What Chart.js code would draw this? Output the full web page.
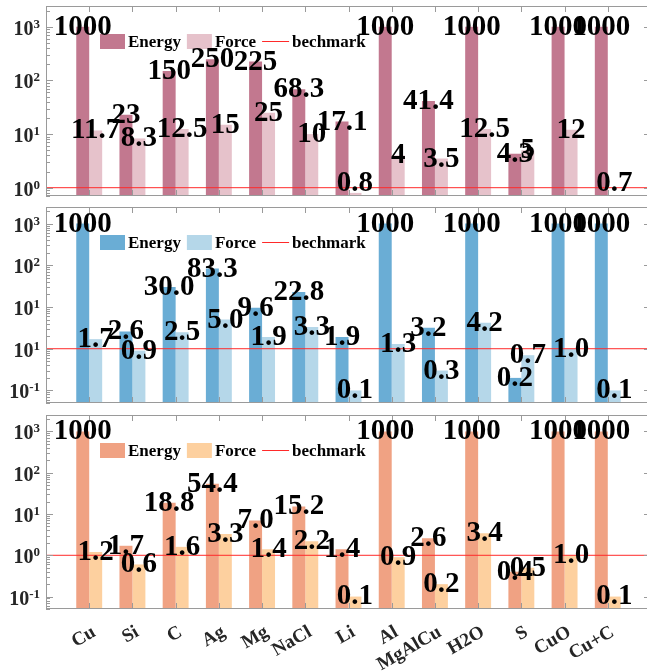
<!DOCTYPE html>
<html lang="en">
<head>
<meta charset="UTF-8">
<title>Energy / Force vs benchmark</title>
<script src="https://cdn.jsdelivr.net/npm/chart.js"></script>
<style>
  html, body { margin: 0; padding: 0; background: #fff; overflow: hidden; width: 647px; height: 671px; }
  .panel { position: absolute; left: 0; }
</style>
</head>
<body>
<canvas id="c1" class="panel" style="top:0px" width="660" height="200"></canvas>
<canvas id="c2" class="panel" style="top:200px" width="660" height="207"></canvas>
<canvas id="c3" class="panel" style="top:407px" width="660" height="264"></canvas>
<script>
const categories = ['Cu', 'Si', 'C', 'Ag', 'Mg', 'NaCl', 'Li', 'Al', 'MgAlCu', 'H2O', 'S', 'CuO', 'Cu+C'];

// top panel
const energy1 = [1000, 23, 150, 250, 225, 68.3, 17.1, 1000, 41.4, 1000, 4.3, 1000, 1000];
const force1  = [11.7, 8.3, 12.5, 15, 25, 10, 0.8, 4, 3.5, 12.5, 5, 12, 0.7];
// middle panel
const energy2 = [1000, 2.6, 30.0, 83.3, 9.6, 22.8, 1.9, 1000, 3.2, 1000, 0.2, 1000, 1000];
const force2  = [1.7, 0.9, 2.5, 5.0, 1.9, 3.3, 0.1, 1.3, 0.3, 4.2, 0.7, 1.0, 0.1];
// bottom panel
const energy3 = [1000, 1.7, 18.8, 54.4, 7.0, 15.2, 1.4, 1000, 2.6, 1000, 0.4, 1000, 1000];
const force3  = [1.2, 0.6, 1.6, 3.3, 1.4, 2.2, 0.1, 0.9, 0.2, 3.4, 0.5, 1.0, 0.1];

const benchmark = 1;

// y tick values and the exponent printed after "10" (middle panel really prints 10^1 at 1)
const yTicks1 = [1, 10, 100, 1000];
const yExp1   = ['0', '1', '2', '3'];
const yTicks2 = [0.1, 1, 10, 100, 1000];
const yExp2   = ['-1', '1', '1', '2', '3'];
const yTicks3 = [0.1, 1, 10, 100, 1000];
const yExp3   = ['-1', '0', '1', '2', '3'];

const SERIF = '"Liberation Serif", "Times New Roman", serif';

function line(ctx, x1, y1, x2, y2) {
    ctx.beginPath();
    ctx.moveTo(x1, y1);
    ctx.lineTo(x2, y2);
    ctx.stroke();
}

// frame, inward ticks, y labels with superscripts, legend and bar values
const decor = {
    id: 'decor',
    afterDatasetsDraw(chart, args, opts) {
        const { ctx, chartArea: a, scales: { x, y } } = chart;
        ctx.save();

        // box + ticks
        ctx.strokeStyle = '#9a9a9a';
        ctx.lineWidth = 1;
        ctx.strokeRect(a.left + 0.5, a.top + 0.5, a.right - a.left - 1, a.bottom - a.top - 1);
        categories.forEach((c, i) => {
            const px = Math.round(x.getPixelForValue(i + 1)) + 0.5;
            line(ctx, px, a.top, px, a.top + 6);
            line(ctx, px, a.bottom, px, a.bottom - 6);
        });
        const lo = Math.floor(Math.log10(y.min)), hi = Math.ceil(Math.log10(y.max));
        for (let d = lo; d <= hi; d++) {
            for (let m = 1; m <= 9; m++) {
                const v = m * Math.pow(10, d);
                if (v < y.min || v > y.max) continue;
                const py = Math.round(y.getPixelForValue(v)) + 0.5;
                const len = m === 1 ? 7 : 4;
                line(ctx, a.left, py, a.left + len, py);
                line(ctx, a.right, py, a.right - len, py);
            }
        }

        // y tick labels
        ctx.fillStyle = '#262626';
        ctx.textAlign = 'right';
        ctx.textBaseline = 'alphabetic';
        opts.ticks.forEach((v, k) => {
            const py = y.getPixelForValue(v);
            ctx.font = 'bold 13px ' + SERIF;
            const ew = ctx.measureText(opts.exps[k]).width;
            ctx.fillText(opts.exps[k], a.left - 6, py + 1);
            ctx.font = 'bold 20px ' + SERIF;
            ctx.fillText('10', a.left - 6 - ew, py + 8);
        });

        // legend inside the plot
        let lx = a.left + opts.legendX;
        const ly = a.top + opts.legendY;
        ctx.font = 'bold 17px ' + SERIF;
        ctx.textAlign = 'left';
        chart.data.datasets.forEach(ds => {
            if (ds.type === 'line') {
                ctx.strokeStyle = ds.borderColor;
                line(ctx, lx, ly + 0.5, lx + 27, ly + 0.5);
                lx += 30;
            } else {
                ctx.fillStyle = ds.backgroundColor;
                ctx.fillRect(lx, ly - 7, 25, 15);
                lx += 28;
            }
            ctx.fillStyle = '#000';
            ctx.fillText(ds.label, lx, ly + 6);
            lx += ctx.measureText(ds.label).width + 6;
        });

        // values on the bars
        ctx.fillStyle = '#000';
        ctx.font = 'bold 29px ' + SERIF;
        ctx.textAlign = 'center';
        chart.data.datasets.forEach((ds, di) => {
            if (ds.type === 'line') return;
            chart.getDatasetMeta(di).data.forEach((bar, i) => {
                const cy = Math.min(bar.y - 2, a.bottom - 15);
                ctx.fillText(opts.fmt(ds.data[i].y), bar.x, cy + 10);
            });
        });
        ctx.restore();
    }
};

function makePanel(id, energy, force, colors, yMin, yMax, ticks, exps, fmt, pad, showX) {
    const toXY = arr => arr.map((v, i) => ({ x: i + 1, y: v }));
    return new Chart(document.getElementById(id), {
        type: 'bar',
        data: {
            datasets: [
                { label: 'Energy', data: toXY(energy), backgroundColor: colors[0], borderWidth: 0,
                  categoryPercentage: 0.6, barPercentage: 1.0, order: 1 },
                { label: 'Force', data: toXY(force), backgroundColor: colors[1], borderWidth: 0,
                  categoryPercentage: 0.6, barPercentage: 1.0, order: 1 },
                { type: 'line', label: 'bechmark', data: [{ x: 0, y: benchmark }, { x: 14, y: benchmark }],
                  borderColor: '#ff2a2a', borderWidth: 1, pointRadius: 0, order: 0 }
            ]
        },
        options: {
            responsive: false,
            animation: false,
            devicePixelRatio: 1,
            events: [],
            layout: { padding: pad },
            plugins: {
                legend: { display: false },
                tooltip: { enabled: false },
                decor: { ticks, exps, fmt, legendX: 54, legendY: 35 }
            },
            scales: {
                x: {
                    type: 'linear', min: 0, max: 14, offset: false, display: showX,
                    afterBuildTicks: s => { s.ticks = categories.map((c, i) => ({ value: i + 1 })); },
                    ticks: {
                        callback: v => categories[v - 1] || '',
                        autoSkip: false, minRotation: 30, maxRotation: 30, padding: 12, labelOffset: 5,
                        color: '#262626', font: { family: SERIF, size: 19, weight: 'bold' }
                    },
                    grid: { display: false, drawTicks: false },
                    border: { display: false },
                    afterFit: s => { if (showX) s.height = 62; }
                },
                y: {
                    type: 'logarithmic', min: yMin, max: yMax,
                    ticks: { display: false },
                    grid: { display: false },
                    border: { display: false },
                    afterFit: s => { s.width = 46; }
                }
            }
        },
        plugins: [decor]
    });
}

const fmtInt = v => String(v);
const fmtOne = v => v >= 1000 ? '1000' : v.toFixed(1);

makePanel('c1', energy1, force1, ['#c2788f', '#e6c2cb'], 0.71, 2450, yTicks1, yExp1, fmtInt,
    { top: 6, bottom: 4, left: 0, right: 9 }, false);
makePanel('c2', energy2, force2, ['#6aadd5', '#b5d7e9'], 0.05, 2500, yTicks2, yExp2, fmtOne,
    { top: 7, bottom: 4, left: 0, right: 9 }, false);
makePanel('c3', energy3, force3, ['#f0a283', '#fdd09f'], 0.05, 2500, yTicks3, yExp3, fmtOne,
    { top: 8, bottom: 0, left: 0, right: 9 }, true);
</script>
</body>
</html>
